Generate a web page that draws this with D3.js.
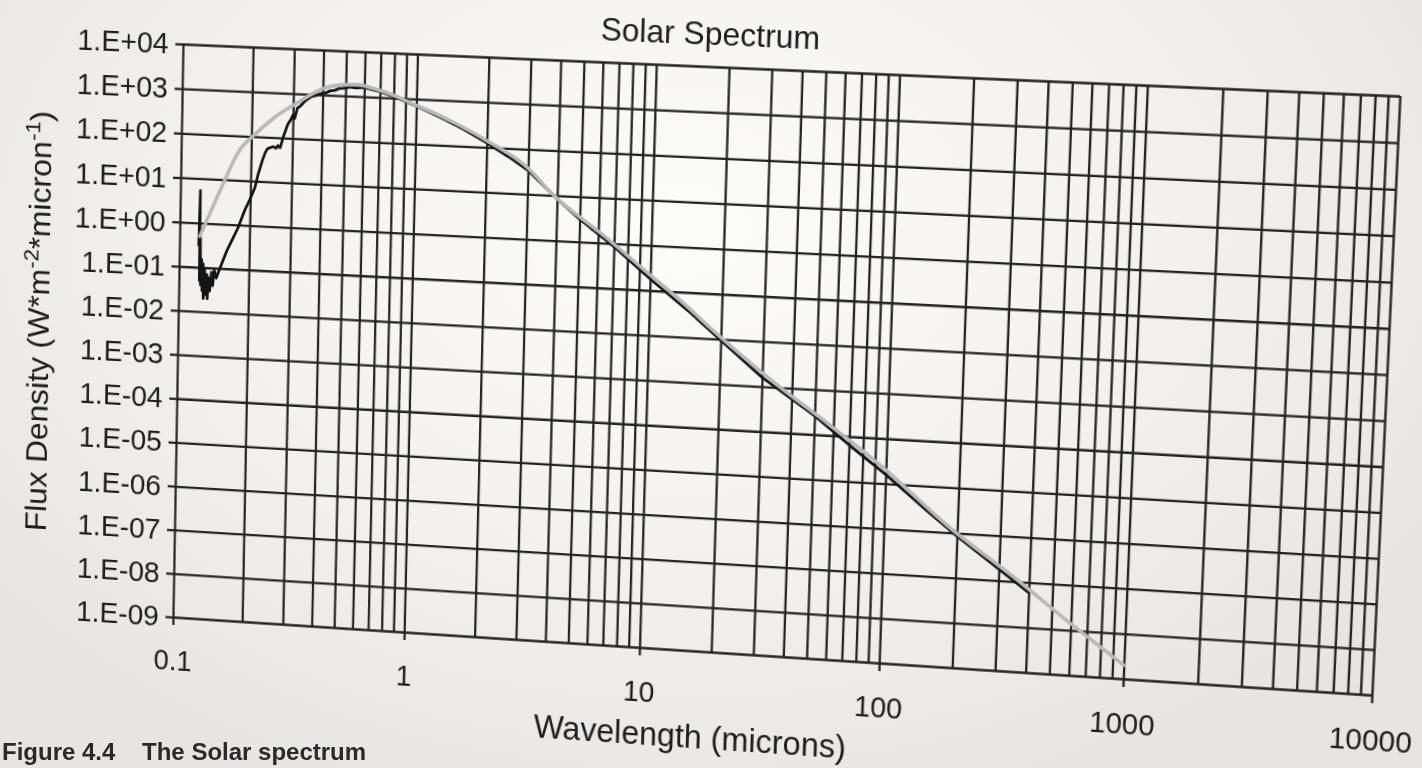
<!DOCTYPE html>
<html lang="en">
<head>
    <meta charset="UTF-8">
    <title>Solar Spectrum</title>
    <script src="https://cdn.jsdelivr.net/npm/d3@7/dist/d3.min.js"></script>
    <style>
        html, body { margin: 0; padding: 0; width: 1422px; height: 768px; overflow: hidden; }
        body {
            background: radial-gradient(ellipse 900px 620px at 48% 30%, #fcfcfb 0%, #f3f1f0 55%, #e7e4e2 100%);
            font-family: "Liberation Sans", Arial, sans-serif;
        }
        #sheet { position: absolute; left: 0; top: 0; transform-origin: 0 0; }
        #caption { position: absolute; left: 0; top: 0; }
        .tick line { stroke: #232323; stroke-width: 2.3; }
        .tick text { fill: #1d1d1d; font-family: "Liberation Sans", Arial, sans-serif; }
    </style>
</head>
<body>
    <div id="sheet"></div>
    <svg id="caption" width="1422" height="768"></svg>
    <script>
        // Blackbody curve (grey): wavelength in microns, W m-2 micron-1
        const bbWave = [0.122, 0.13, 0.15, 0.178, 0.209, 0.248, 0.313, 0.41, 0.52, 0.56, 0.66, 0.8, 0.91, 1.33, 2, 3, 3.8, 6.4, 10, 13, 20, 35, 57, 94, 186, 367, 600, 900, 1000]
        const bbFlux = [0.5, 1.1, 6.6, 47, 118, 270, 630, 1450, 1800, 1820, 1550, 1150, 880, 400, 140, 38, 11, 1.4, 0.22, 0.075, 0.011, 1.1e-3, 1.8e-4, 2.6e-5, 1.3e-6, 1e-7, 1.4e-8, 3e-9, 2e-9]

        // Measured spectrum (black)
        const specWave = [0.121, 0.122, 0.1225, 0.123, 0.124, 0.125, 0.126, 0.127, 0.128, 0.129, 0.13, 0.131, 0.132, 0.133, 0.134, 0.136, 0.138, 0.14, 0.142, 0.145, 0.15, 0.155, 0.16, 0.17, 0.178, 0.19, 0.2, 0.209, 0.215, 0.224, 0.23, 0.235, 0.24, 0.248, 0.255, 0.26, 0.266, 0.274, 0.28, 0.285, 0.294, 0.3, 0.305, 0.313, 0.32, 0.33, 0.336, 0.346, 0.36, 0.375, 0.39, 0.41, 0.43, 0.45, 0.47, 0.5, 0.52, 0.55, 0.6, 0.7, 0.8, 1, 1.3, 1.6, 2, 2.5, 3, 4, 5, 7, 10, 15, 20, 30, 50, 70, 100, 150, 200, 300, 400]
        const specFlux = [0.3, 5.4, 0.05, 0.5, 0.04, 0.15, 0.03, 0.12, 0.02, 0.09, 0.035, 0.025, 0.07, 0.02, 0.06, 0.03, 0.08, 0.04, 0.09, 0.06, 0.1, 0.16, 0.25, 0.5, 0.85, 2.2, 4, 7.2, 14, 30, 45, 55, 58, 62, 58, 66, 60, 107, 150, 200, 263, 330, 280, 480, 520, 620, 700, 780, 900, 960, 1050, 1100, 1250, 1300, 1450, 1500, 1600, 1550, 1600, 1350, 1080, 700, 390, 235, 125, 63, 34, 8.5, 3.2, 0.85, 0.18, 0.034, 0.0095, 1.6e-3, 2.6e-4, 6.5e-5, 1.6e-5, 2.8e-6, 8.5e-7, 1.8e-7, 6e-8]

        // Axis ticks
        const xTickValues = [0.1, 1, 10, 100, 1000, 10000]
        const xTickLabels = ["0.1", "1", "10", "100", "1000", "10000"]
        const yTickValues = [1e4, 1e3, 1e2, 1e1, 1e0, 1e-1, 1e-2, 1e-3, 1e-4, 1e-5, 1e-6, 1e-7, 1e-8, 1e-9]
        const yTickLabels = ["1.E+04", "1.E+03", "1.E+02", "1.E+01", "1.E+00", "1.E-01", "1.E-02", "1.E-03", "1.E-04", "1.E-05", "1.E-06", "1.E-07", "1.E-08", "1.E-09"]

        // Setup
        const marginLeft = 230
        const marginTop = 90
        const chartWidth = 1217
        const chartHeight = 574

        // The page was photographed at an angle: corners of the plot on screen
        const plotCorners = [[183, 44], [1400, 96], [1372, 695], [173, 617]]

        function quadTransform(x0, y0, w, h, q) {
            const [p0, p1, p2, p3] = q
            const dx1 = p1[0] - p2[0], dx2 = p3[0] - p2[0], dx3 = p0[0] - p1[0] + p2[0] - p3[0]
            const dy1 = p1[1] - p2[1], dy2 = p3[1] - p2[1], dy3 = p0[1] - p1[1] + p2[1] - p3[1]
            const den = dx1 * dy2 - dx2 * dy1
            const g = (dx3 * dy2 - dx2 * dy3) / den
            const hh = (dx1 * dy3 - dx3 * dy1) / den
            const a = p1[0] - p0[0] + g * p1[0], b = p3[0] - p0[0] + hh * p3[0], c = p0[0]
            const d = p1[1] - p0[1] + g * p1[1], e = p3[1] - p0[1] + hh * p3[1], f = p0[1]
            const A = a / w, B = b / h, D = d / w, E = e / h, G = g / w, Hh = hh / h
            const cx = c - A * x0 - B * y0
            const cy = f - D * x0 - E * y0
            const cw = 1 - G * x0 - Hh * y0
            return `matrix3d(${A},${D},0,${G},${B},${E},0,${Hh},0,0,1,0,${cx},${cy},0,${cw})`
        }

        d3.select("#sheet")
            .style("transform", quadTransform(marginLeft, marginTop, chartWidth, chartHeight, plotCorners))

        const svg = d3.select("#sheet")
            .append("svg")
            .attr("width", marginLeft + chartWidth + 120)
            .attr("height", marginTop + chartHeight + 160)

        const chart = svg.append("g")
            .attr("transform", `translate(${marginLeft},${marginTop})`)

        // Scales
        const xScale = d3.scaleLog().domain([0.1, 10000]).range([0, chartWidth])
        const yScale = d3.scaleLog().domain([1e-9, 1e4]).range([chartHeight, 0])

        // Grid lines
        const verticalGrid = d3.axisBottom(xScale)
            .tickValues(xScale.ticks())
            .tickSize(-chartHeight)
            .tickFormat(() => "")
        chart.append("g")
            .attr("class", "vertical-lines")
            .attr("transform", `translate(0,${chartHeight})`)
            .call(verticalGrid)

        const horizontalGrid = d3.axisLeft(yScale)
            .tickValues(yTickValues)
            .tickSize(-chartWidth)
            .tickFormat(() => "")
        chart.append("g")
            .attr("class", "horizontal-lines")
            .call(horizontalGrid)

        // Axes with labels
        const leftAxis = d3.axisLeft(yScale)
            .tickValues(yTickValues)
            .tickSize(8)
            .tickPadding(7)
            .tickFormat((d, i) => yTickLabels[i])
        chart.append("g")
            .attr("class", "left-axis")
            .call(leftAxis)
            .selectAll("text").style("font-size", "30px")

        const bottomAxis = d3.axisBottom(xScale)
            .tickValues(xTickValues)
            .tickSize(8)
            .tickPadding(25)
            .tickFormat((d, i) => xTickLabels[i])
        chart.append("g")
            .attr("class", "bottom-axis")
            .attr("transform", `translate(0,${chartHeight})`)
            .call(bottomAxis)
            .selectAll("text").style("font-size", "29px")

        chart.selectAll(".domain").remove()

        // Lines
        const line = d3.line()
            .x(d => xScale(d[0]))
            .y(d => yScale(d[1]))

        chart.append("path")
            .datum(d3.zip(specWave, specFlux))
            .attr("fill", "none")
            .attr("stroke", "#141414")
            .attr("stroke-width", 2.8)
            .attr("stroke-linejoin", "round")
            .attr("d", line)

        chart.append("path")
            .datum(d3.zip(bbWave, bbFlux))
            .attr("fill", "none")
            .attr("stroke", "#b8b8b8")
            .attr("stroke-width", 3.6)
            .attr("stroke-linecap", "round")
            .attr("d", line.curve(d3.curveMonotoneX))

        // Titles
        chart.append("text")
            .attr("x", 540)
            .attr("y", -21)
            .attr("text-anchor", "middle")
            .style("font-size", "32px")
            .attr("fill", "#1d1d1d")
            .text("Solar Spectrum")

        chart.append("text")
            .attr("x", 540)
            .attr("y", chartHeight + 97)
            .attr("text-anchor", "middle")
            .style("font-size", "33px")
            .attr("fill", "#1d1d1d")
            .text("Wavelength (microns)")

        const yTitle = chart.append("text")
            .attr("transform", `translate(-137,${chartHeight / 2 - 3}) rotate(-90)`)
            .attr("text-anchor", "middle")
            .style("font-size", "32px")
            .attr("fill", "#1d1d1d")
        yTitle.append("tspan").text("Flux Density (W*m")
        yTitle.append("tspan").attr("dy", -12).style("font-size", "22px").text("-2")
        yTitle.append("tspan").attr("dy", 12).text("*micron")
        yTitle.append("tspan").attr("dy", -12).style("font-size", "22px").text("-1")
        yTitle.append("tspan").attr("dy", 12).text(")")

        // Book caption at the bottom of the photo
        d3.select("#caption").append("text")
            .attr("x", 2)
            .attr("y", 760)
            .attr("xml:space", "preserve")
            .style("font-size", "24px")
            .style("font-weight", "bold")
            .attr("fill", "#2a2a2a")
            .text("Figure 4.4    The Solar spectrum")
    </script>
</body>
</html>
